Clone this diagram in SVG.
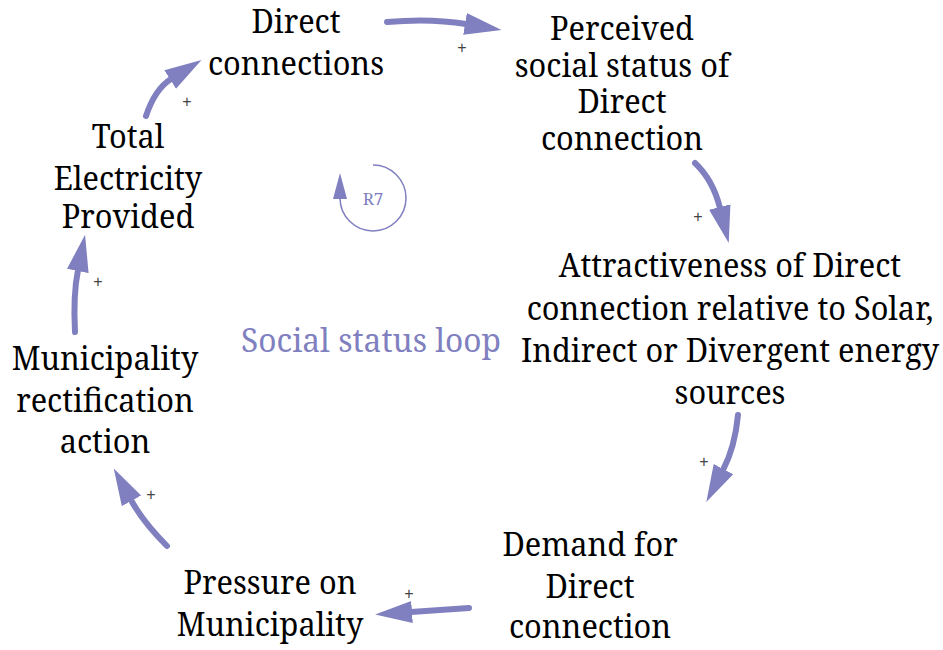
<svg xmlns="http://www.w3.org/2000/svg" width="943" height="650" viewBox="0 0 943 650">
<style>
.lbl{font-family:"Noto Serif","DejaVu Serif",serif;font-size:32px;fill:#000;text-anchor:middle}
.lnk{fill:none;stroke:#8080c0;stroke-width:6;stroke-linecap:round}
.pl{font-family:"Liberation Sans",Arial,sans-serif;font-size:16px;fill:#444;text-anchor:middle;dominant-baseline:central}
.ttl{font-family:"Noto Serif","DejaVu Serif",serif;font-size:33px;fill:#8080c0;text-anchor:middle}
.r7{font-family:"Noto Serif","DejaVu Serif",serif;font-size:17px;fill:#8080c0;text-anchor:middle}
</style>
<defs>
<marker id="ah" markerUnits="userSpaceOnUse" viewBox="0 -12 37 24" markerWidth="37" markerHeight="24" refX="1" refY="0" orient="auto">
<path d="M0,-11 L37,0 L0,11 Z" fill="#8080c0"/>
</marker>
</defs>
<rect width="943" height="650" fill="#fff"/>
<g id="connectors">
<path class="lnk" d="M387,22 Q430,18 466,24" marker-end="url(#ah)"/>
<path class="lnk" d="M695,163 Q713,180 720,208" marker-end="url(#ah)"/>
<path class="lnk" d="M738,415 Q735,447 723,470" marker-end="url(#ah)"/>
<path class="lnk" d="M469,608 Q440,610 411,612" marker-end="url(#ah)"/>
<path class="lnk" d="M167,546 Q143,522 131,500" marker-end="url(#ah)"/>
<path class="lnk" d="M75,332 Q73,295 78,270" marker-end="url(#ah)"/>
<path class="lnk" d="M146,116 Q155,89 171,79" marker-end="url(#ah)"/>
<text class="pl" x="462" y="47">+</text>
<text class="pl" x="698" y="216">+</text>
<text class="pl" x="704" y="461">+</text>
<text class="pl" x="409" y="593">+</text>
<text class="pl" x="151" y="494">+</text>
<text class="pl" x="98" y="281">+</text>
<text class="pl" x="187" y="101">+</text>
</g>
<g id="loop-R7">
<path d="M373,165 A33,33 0 1 1 340,198" fill="none" stroke="#8080c0" stroke-width="1.5"/>
<path d="M333,199 L347,199 L340,173 Z" fill="#8080c0"/>
<text class="r7" x="373" y="205">R7</text>
</g>
<g id="title" transform="translate(371,0) scale(0.96,1)">
<text class="ttl" x="0" y="352">Social status loop</text>
</g>
<g id="direct-connections" transform="translate(296,0) scale(0.96,1)">
<text class="lbl" x="0" y="33">Direct</text>
<text class="lbl" x="0" y="75">connections</text>
</g>
<g id="perceived-social-status" transform="translate(622,0) scale(0.96,1)">
<text class="lbl" x="0" y="40">Perceived</text>
<text class="lbl" x="0" y="77">social status of</text>
<text class="lbl" x="0" y="113">Direct</text>
<text class="lbl" x="0" y="150">connection</text>
</g>
<g id="attractiveness" transform="translate(730,0) scale(0.96,1)">
<text class="lbl" x="0" y="277">Attractiveness of Direct</text>
<text class="lbl" x="0" y="320">connection relative to Solar,</text>
<text class="lbl" x="0" y="362">Indirect or Divergent energy</text>
<text class="lbl" x="0" y="404">sources</text>
</g>
<g id="demand" transform="translate(590,0) scale(0.96,1)">
<text class="lbl" x="0" y="556">Demand for</text>
<text class="lbl" x="0" y="598">Direct</text>
<text class="lbl" x="0" y="638">connection</text>
</g>
<g id="pressure" transform="translate(270,0) scale(0.96,1)">
<text class="lbl" x="0" y="594">Pressure on</text>
<text class="lbl" x="0" y="636">Municipality</text>
</g>
<g id="municipality-action" transform="translate(105,0) scale(0.96,1)">
<text class="lbl" x="0" y="370">Municipality</text>
<text class="lbl" x="0" y="412">rectification</text>
<text class="lbl" x="0" y="453">action</text>
</g>
<g id="total-electricity" transform="translate(128,0) scale(0.96,1)">
<text class="lbl" x="0" y="148">Total</text>
<text class="lbl" x="0" y="190">Electricity</text>
<text class="lbl" x="0" y="228">Provided</text>
</g>
</svg>
